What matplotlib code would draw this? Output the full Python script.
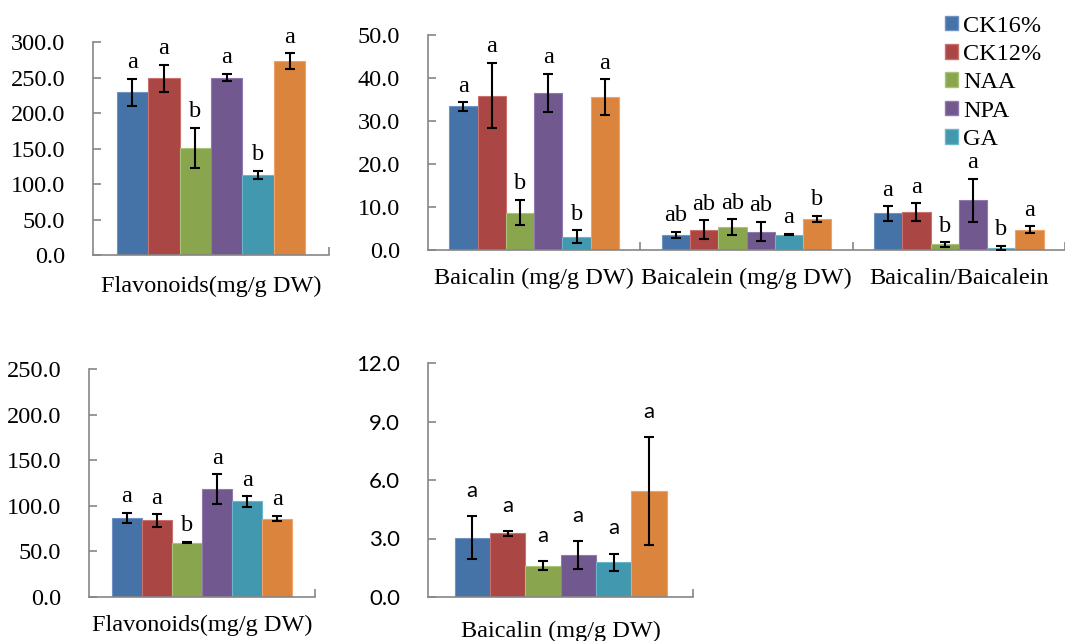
import matplotlib
matplotlib.use("Agg")
import matplotlib.pyplot as plt
from matplotlib.patches import Patch
import numpy as np

plt.rcParams['font.family'] = 'Liberation Serif'

treatments = ['CK16%', 'CK12%', 'NAA', 'NPA', 'GA', '']
colors = ['#4572A7', '#AA4643', '#89A54E', '#71588F', '#4198AF', '#DB843D']
edges = ['#6E93C4', '#C8716E', '#A9C479', '#9079AE', '#6BB6CB', '#F0A269']

# upper row, left panel
flav_top = [229, 249, 151, 250, 113, 273]
flav_top_err = [19, 19, 28, 5, 6, 11]
flav_top_sig = ['a', 'a', 'b', 'a', 'b', 'a']

# upper row, right panel (three groups)
top_groups = ['Baicalin (mg/g DW)', 'Baicalein (mg/g DW)', 'Baicalin/Baicalein']
baicalin_top = [33.4, 35.9, 8.7, 36.6, 3.1, 35.6]
baicalin_top_err = [1.0, 7.6, 3.0, 4.4, 1.5, 4.1]
baicalin_top_sig = ['a', 'a', 'b', 'a', 'b', 'a']
baicalein_top = [3.5, 4.7, 5.3, 4.3, 3.6, 7.2]
baicalein_top_err = [0.7, 2.2, 1.8, 2.2, 0.15, 0.8]
baicalein_top_sig = ['ab', 'ab', 'ab', 'ab', 'a', 'b']
ratio_top = [8.5, 8.8, 1.3, 11.6, 0.5, 4.7]
ratio_top_err = [1.7, 2.1, 0.5, 5.0, 0.45, 0.8]
ratio_top_sig = ['a', 'a', 'b', 'a', 'b', 'a']

# lower row
flav_bot = [86.6, 84.0, 59.6, 118.4, 104.9, 85.9]
flav_bot_err = [6.0, 6.7, 0.7, 16.0, 5.7, 3.0]
flav_bot_sig = ['a', 'a', 'b', 'a', 'a', 'a']
baicalin_bot = [3.05, 3.26, 1.61, 2.16, 1.77, 5.43]
baicalin_bot_err = [1.08, 0.13, 0.22, 0.7, 0.45, 2.76]
baicalin_bot_sig = ['a', 'a', 'a', 'a', 'a', 'a']

W = 1065
H = 641
fig = plt.figure(figsize=(W / 100, H / 100), dpi=100)


def make_ax(left, right, top, bottom):
    return fig.add_axes([left / W, 1 - bottom / H, (right - left) / W, (bottom - top) / H])


def draw(ax, groups, vals, errs, sigs, ymax, ystep, xmax, font='Liberation Serif', fs=17.5, gap=4, lpad=13):
    n = len(treatments)
    w = 0.8 / n
    x = np.arange(len(groups))
    for i in range(n):
        v = [g[i] for g in vals]
        e = [g[i] for g in errs]
        xi = x + (i - (n - 1) / 2) * w
        ax.bar(xi, v, w, color=colors[i], edgecolor=edges[i], linewidth=0.8, zorder=2)
        ax.errorbar(xi, v, yerr=e, fmt='none', ecolor='black', elinewidth=1.5,
                    capsize=3.6, capthick=1.5, zorder=3)
        for xx, vv, ee, s in zip(xi, v, e, [g[i] for g in sigs]):
            ax.annotate(s, (xx, vv + ee), xytext=(0, gap), textcoords='offset points',
                        ha='center', va='bottom', fontsize=fs, family=font, zorder=4)
    ticks = np.arange(0, ymax + ystep / 2, ystep)
    ax.set_xlim(-0.5, xmax)
    ax.set_ylim(0, ymax)
    ax.set_yticks(ticks)
    ax.set_yticklabels(['%.1f' % t for t in ticks], fontsize=fs, family=font)
    ax.set_xticks(x)
    ax.set_xticklabels(groups, fontsize=17.5)
    ax.set_xticks(x + 0.5, minor=True)
    ax.tick_params(axis='x', which='major', length=0, pad=lpad)
    ax.tick_params(axis='x', which='minor', direction='in', length=6, color='#868686', width=1.2)
    ax.tick_params(axis='y', direction='in', length=6, color='#868686', width=1.2, pad=20)
    for side in ['top', 'right']:
        ax.spines[side].set_visible(False)
    for side in ['left', 'bottom']:
        ax.spines[side].set_color('#868686')
        ax.spines[side].set_linewidth(1.2)
    ax.patch.set_alpha(0)


ax1 = make_ax(93, 329, 42, 255)
draw(ax1, ['Flavonoids(mg/g DW)'], [flav_top], [flav_top_err], [flav_top_sig], 300, 50, 0.5, lpad=15)

ax2 = make_ax(428, 1065, 35, 250)
draw(ax2, top_groups, [baicalin_top, baicalein_top, ratio_top],
     [baicalin_top_err, baicalein_top_err, ratio_top_err],
     [baicalin_top_sig, baicalein_top_sig, ratio_top_sig], 50, 10, -0.5 + 637 / 215)

ax3 = make_ax(89, 315, 369, 597)
draw(ax3, ['Flavonoids(mg/g DW)'], [flav_bot], [flav_bot_err], [flav_bot_sig], 250, 50, 0.5)

ax4 = make_ax(428, 693, 363, 597)
draw(ax4, ['Baicalin (mg/g DW)'], [baicalin_bot], [baicalin_bot_err], [baicalin_bot_sig],
     12, 3, 0.5, font='Lato', fs=16, gap=11, lpad=17)

handles = [Patch(facecolor=colors[i], edgecolor=edges[i]) for i in range(5)]
fig.legend(handles, treatments[:5], loc='upper left', bbox_to_anchor=(935 / W, 1 - 6 / H),
           frameon=False, fontsize=17.5, handlelength=0.55, handleheight=0.55,
           handletextpad=0.2, labelspacing=0.3, borderaxespad=0)

fig.savefig('out.png', dpi=100)
